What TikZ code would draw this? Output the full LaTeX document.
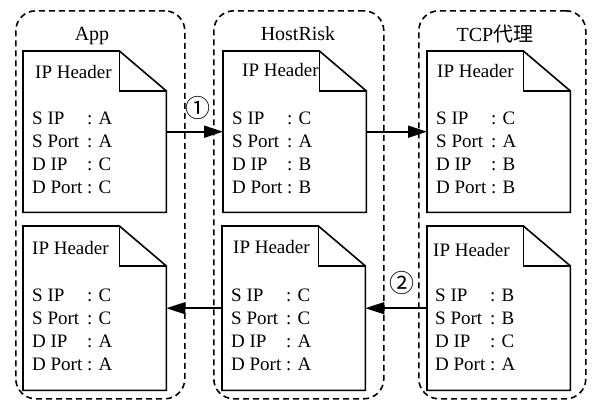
\documentclass[tikz,border=0pt]{standalone}
\usepackage{fontspec}
\setmainfont{Liberation Serif}
\newfontfamily\serifface{Liberation Serif}
\newfontfamily\cjk{Noto Sans CJK SC}
\usetikzlibrary{arrows.meta}

% folded-corner page outline around a rectangular node
\newcommand\pagefold[1]{%
  \draw[pageline] (#1.north west) -- ([xshift=-47pt]#1.north east)
    -- ([yshift=-40pt]#1.north east) -- (#1.south east)
    -- (#1.south west) -- cycle;
  \draw[pageline] ([xshift=-47pt]#1.north east) |- ([yshift=-40pt]#1.north east);
}
% header field table
\newcommand\hdrfields[4]{%
  \begin{tabular}[t]{@{}l@{\ }l@{}}
  S IP & : #1\\ S Port & : #2\\ D IP & : #3\\ D Port & : #4
  \end{tabular}}

\begin{document}
\begin{tikzpicture}[x=1pt,y=-1pt,
  group/.style={draw, line width=1.6pt, dash pattern=on 6pt off 4pt,
    rounded corners=20pt, anchor=north west, inner sep=0pt,
    minimum height=388pt},
  page/.style={anchor=north west, inner sep=0pt, minimum width=143pt},
  pageline/.style={line width=1.6pt, line join=miter},
  title/.style={font=\serifface\fontsize{20}{24}\selectfont, inner sep=0pt},
  hdr/.style={font=\serifface\fontsize{19}{23}\selectfont, anchor=base west, inner sep=0pt},
  fields/.style={font=\serifface\fontsize{19}{23}\selectfont, anchor=base west, inner sep=0pt},
  stepmark/.style={font=\cjk\fontsize{25}{28}\selectfont, inner sep=0pt},
  flow/.style={line width=1.7pt, -{Triangle[length=19pt,width=12pt]}},
]
\useasboundingbox (0,0) rectangle (592,402);

% dashed process boxes
\node[group, minimum width=169pt] (appbox)  at (15,10)  {};
\node[group, minimum width=170pt] (hostbox) at (213,10) {};
\node[group, minimum width=167pt] (tcpbox)  at (418,10) {};

\node[title] (apptitle)  at (92,36)  {App};
\node[title] (hosttitle) at (298,34) {HostRisk};
\node[title] (tcptitle)  at (495,34) {TCP{\cjk 代理}};

% packet pages
\node[page, minimum height=161pt] (a1) at (23,51)  {};
\node[page, minimum height=161pt] (h1) at (223,51) {};
\node[page, minimum height=161pt] (t1) at (427,51) {};
\node[page, minimum height=164pt] (a2) at (23,226)  {};
\node[page, minimum height=164pt] (h2) at (222,226) {};
\node[page, minimum height=164pt] (t2) at (427,226) {};
\pagefold{a1}\pagefold{h1}\pagefold{t1}
\pagefold{a2}\pagefold{h2}\pagefold{t2}

% page contents
\node[hdr] (a1h) at (35,78)  {IP Header};
\node[hdr] (h1h) at (242,76) {IP Header};
\node[hdr] (t1h) at (437,77) {IP Header};
\node[hdr] (a2h) at (32,254)  {IP Header};
\node[hdr] (h2h) at (233,253) {IP Header};
\node[hdr] (t2h) at (433,256) {IP Header};

\node[fields] (a1f) at (32,124)  {\hdrfields{A}{A}{C}{C}};
\node[fields] (h1f) at (232,124) {\hdrfields{C}{A}{B}{B}};
\node[fields] (t1f) at (436,124) {\hdrfields{C}{A}{B}{B}};
\node[fields] (a2f) at (32,301)  {\hdrfields{C}{C}{A}{A}};
\node[fields] (h2f) at (231,301) {\hdrfields{C}{C}{A}{A}};
\node[fields] (t2f) at (435,301) {\hdrfields{B}{B}{C}{A}};

% packet flow
\draw[flow] (a1.east) -- (h1.west);
\draw[flow] (h1.east) -- (t1.west);
\draw[flow] (t2.west) -- (h2.east);
\draw[flow] (h2.west) -- (a2.east);

\node[stepmark] (s1) at (198,108) {①};
\node[stepmark] (s2) at (402,283) {②};
\end{tikzpicture}
\end{document}
